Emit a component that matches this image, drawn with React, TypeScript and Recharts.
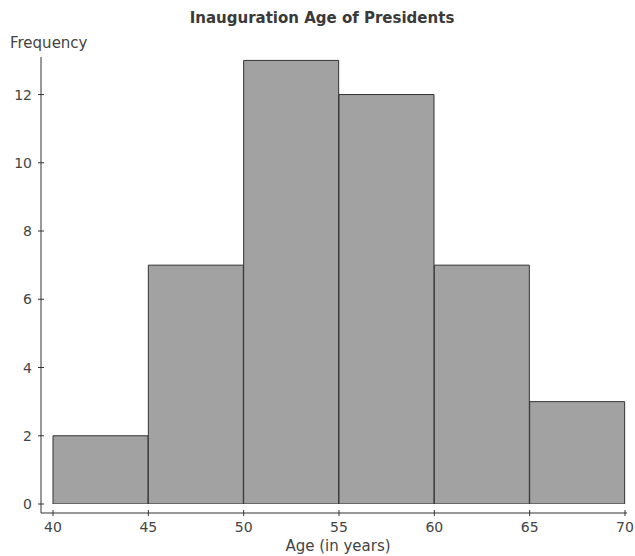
import React from 'react'
import { ComposedChart, Bar, XAxis, YAxis } from 'recharts'

const binLabels = ['40-45', '45-50', '50-55', '55-60', '60-65', '65-70']
const binStarts = [40, 45, 50, 55, 60, 65]
const frequencies = [2, 7, 13, 12, 7, 3]
const xTicks = [40, 45, 50, 55, 60, 65, 70]
const yTicks = [0, 2, 4, 6, 8, 10, 12]

const data = binLabels.map((bin, i) => ({ bin, start: binStarts[i], count: frequencies[i] }))

const FONT = '"DejaVu Sans", sans-serif'
const INK = '#333'

function YTick(props: any) {
  const { x, y, payload } = props
  const ax = x + 9
  return (
    <g>
      <line x1={ax - 3} x2={ax + 3} y1={y} y2={y} stroke={INK} />
      <text x={x} y={y} dy={5} textAnchor="end" fontSize={14} fontFamily={FONT} fill="#444">
        {payload.value}
      </text>
    </g>
  )
}

function XTick(props: any) {
  const { x, y, payload } = props
  const ay = y - 6
  return (
    <g>
      <line x1={x} x2={x} y1={ay - 3} y2={ay + 3} stroke={INK} />
      <text x={x} y={y} dy={13} textAnchor="middle" fontSize={14} fontFamily={FONT} fill="#444">
        {payload.value}
      </text>
    </g>
  )
}

export default function App() {
  return (
    <div style={{ position: 'absolute', left: 0, top: 0, width: 635, height: 556, background: '#fff' }}>
      <div
        style={{
          position: 'absolute',
          left: 187,
          width: 270,
          top: 9,
          textAlign: 'center',
          fontFamily: FONT,
          fontWeight: 'bold',
          fontSize: 15,
          color: '#3a3a3a',
          whiteSpace: 'nowrap',
        }}
      >
        Inauguration Age of Presidents
      </div>
      <div style={{ position: 'absolute', left: 10, top: 34, fontFamily: FONT, fontSize: 15, color: '#444' }}>
        Frequency
      </div>
      <ComposedChart
        width={635}
        height={556}
        data={data}
        barCategoryGap={0}
        barGap={0}
        margin={{ top: 57, right: 8, bottom: 0, left: 0 }}
      >
        <XAxis xAxisId="bins" dataKey="bin" type="category" hide height={0} padding={{ left: 12, right: 2 }} />
        <XAxis
          xAxisId="num"
          dataKey="start"
          type="number"
          domain={[40, 70]}
          allowDataOverflow
          ticks={xTicks}
          interval={0}
          padding={{ left: 12, right: 2 }}
          height={43}
          stroke={INK}
          tickSize={0}
          tickMargin={6}
          tick={<XTick />}
          label={{ value: 'Age (in years)', position: 'insideBottom', offset: 5, fontSize: 15, fontFamily: FONT, fill: '#444', dx: 4 }}
        />
        <YAxis
          domain={[0, 13.1]}
          allowDataOverflow
          ticks={yTicks}
          interval={0}
          padding={{ top: 0, bottom: 9 }}
          width={41}
          stroke={INK}
          tickSize={0}
          tickMargin={9}
          tick={<YTick />}
        />
        <Bar xAxisId="bins" dataKey="count" fill="#a2a2a2" stroke={INK} strokeWidth={1} isAnimationActive={false} />
      </ComposedChart>
    </div>
  )
}
